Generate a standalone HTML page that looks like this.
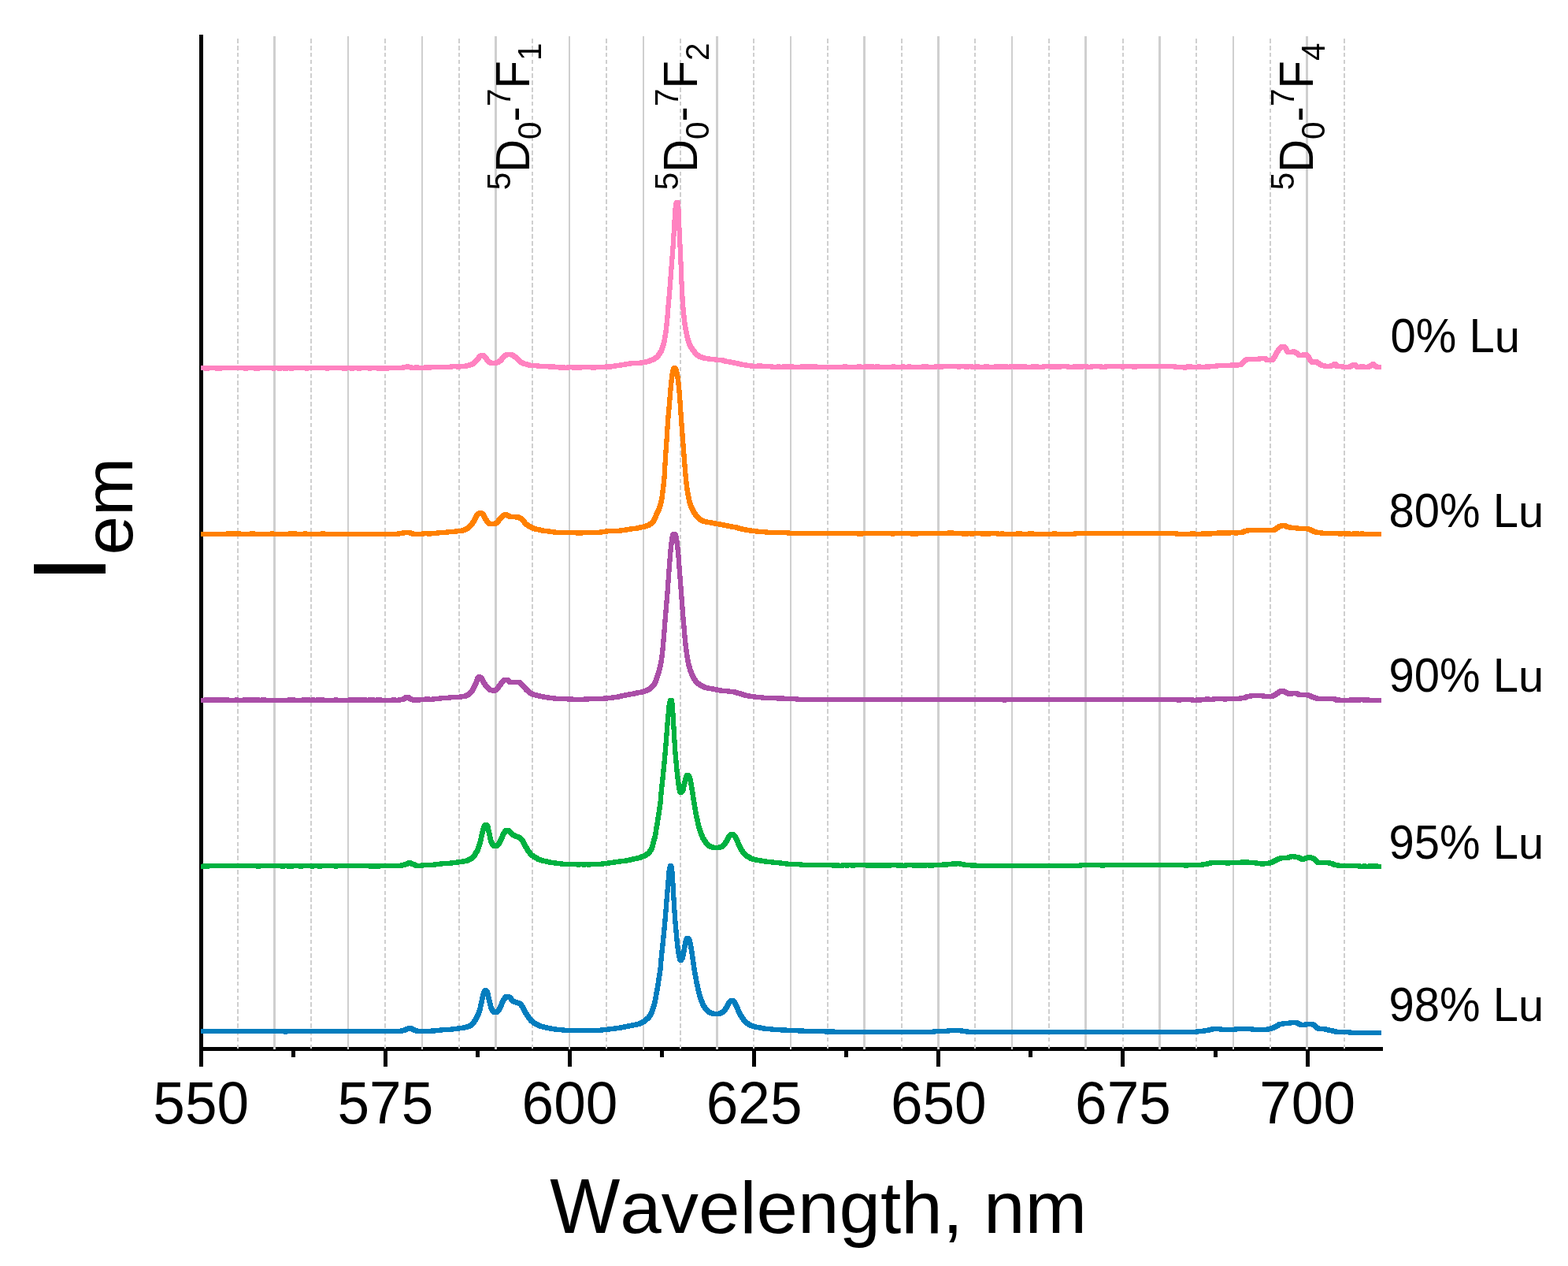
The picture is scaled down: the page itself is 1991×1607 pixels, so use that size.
<!DOCTYPE html>
<html lang="en"><head><meta charset="utf-8">
<title>Emission spectra</title>
<style>
html,body{margin:0;padding:0;background:#fff;}
body{width:1991px;height:1607px;overflow:hidden;}
svg{display:block;}
text{font-family:"Liberation Sans", sans-serif;fill:#000;font-kerning:none;}
.grid line{stroke:#cfcfcf;}
.curve{fill:none;stroke-width:6;shape-rendering:crispEdges;stroke-linejoin:round;stroke-linecap:butt;}
</style></head><body>
<svg width="1991" height="1607" viewBox="0 0 1991 1607">
<rect width="1991" height="1607" fill="#ffffff"/>
<g stroke="#000" stroke-width="5" fill="none" stroke-linecap="butt" shape-rendering="crispEdges">
<line x1="255.50" y1="44.00" x2="255.50" y2="1353.90"/>
<line x1="253.00" y1="1331.50" x2="1756.00" y2="1331.50"/>
<line x1="489.35" y1="1331.50" x2="489.35" y2="1353.90"/>
<line x1="723.50" y1="1331.50" x2="723.50" y2="1353.90"/>
<line x1="957.65" y1="1331.50" x2="957.65" y2="1353.90"/>
<line x1="1191.80" y1="1331.50" x2="1191.80" y2="1353.90"/>
<line x1="1425.95" y1="1331.50" x2="1425.95" y2="1353.90"/>
<line x1="1660.10" y1="1331.50" x2="1660.10" y2="1353.90"/>
<line x1="372.27" y1="1331.50" x2="372.27" y2="1342.30"/>
<line x1="606.42" y1="1331.50" x2="606.42" y2="1342.30"/>
<line x1="840.58" y1="1331.50" x2="840.58" y2="1342.30"/>
<line x1="1074.72" y1="1331.50" x2="1074.72" y2="1342.30"/>
<line x1="1308.88" y1="1331.50" x2="1308.88" y2="1342.30"/>
<line x1="1543.03" y1="1331.50" x2="1543.03" y2="1342.30"/>
</g>
<g class="grid" shape-rendering="crispEdges">
<line x1="348.51" y1="46" x2="348.51" y2="1332" stroke-width="2.6"/>
<line x1="442.17" y1="46" x2="442.17" y2="1332" stroke-width="2.6"/>
<line x1="535.83" y1="46" x2="535.83" y2="1332" stroke-width="2.6"/>
<line x1="629.49" y1="46" x2="629.49" y2="1332" stroke-width="2.6"/>
<line x1="723.15" y1="46" x2="723.15" y2="1332" stroke-width="2.6"/>
<line x1="816.81" y1="46" x2="816.81" y2="1332" stroke-width="2.6"/>
<line x1="910.47" y1="46" x2="910.47" y2="1332" stroke-width="2.6"/>
<line x1="1004.13" y1="46" x2="1004.13" y2="1332" stroke-width="2.6"/>
<line x1="1097.79" y1="46" x2="1097.79" y2="1332" stroke-width="2.6"/>
<line x1="1191.45" y1="46" x2="1191.45" y2="1332" stroke-width="2.6"/>
<line x1="1285.11" y1="46" x2="1285.11" y2="1332" stroke-width="2.6"/>
<line x1="1378.77" y1="46" x2="1378.77" y2="1332" stroke-width="2.6"/>
<line x1="1472.43" y1="46" x2="1472.43" y2="1332" stroke-width="2.6"/>
<line x1="1566.09" y1="46" x2="1566.09" y2="1332" stroke-width="2.6"/>
<line x1="1659.75" y1="46" x2="1659.75" y2="1332" stroke-width="2.6"/>
<line x1="301.68" y1="49.1" x2="301.68" y2="1332" stroke-width="2" stroke-dasharray="5.6 3.265"/>
<line x1="395.34" y1="49.1" x2="395.34" y2="1332" stroke-width="2" stroke-dasharray="5.6 3.265"/>
<line x1="489.00" y1="49.1" x2="489.00" y2="1332" stroke-width="2" stroke-dasharray="5.6 3.265"/>
<line x1="582.66" y1="49.1" x2="582.66" y2="1332" stroke-width="2" stroke-dasharray="5.6 3.265"/>
<line x1="676.32" y1="49.1" x2="676.32" y2="1332" stroke-width="2" stroke-dasharray="5.6 3.265"/>
<line x1="769.98" y1="49.1" x2="769.98" y2="1332" stroke-width="2" stroke-dasharray="5.6 3.265"/>
<line x1="863.64" y1="49.1" x2="863.64" y2="1332" stroke-width="2" stroke-dasharray="5.6 3.265"/>
<line x1="957.30" y1="49.1" x2="957.30" y2="1332" stroke-width="2" stroke-dasharray="5.6 3.265"/>
<line x1="1050.96" y1="49.1" x2="1050.96" y2="1332" stroke-width="2" stroke-dasharray="5.6 3.265"/>
<line x1="1144.62" y1="49.1" x2="1144.62" y2="1332" stroke-width="2" stroke-dasharray="5.6 3.265"/>
<line x1="1238.28" y1="49.1" x2="1238.28" y2="1332" stroke-width="2" stroke-dasharray="5.6 3.265"/>
<line x1="1331.94" y1="49.1" x2="1331.94" y2="1332" stroke-width="2" stroke-dasharray="5.6 3.265"/>
<line x1="1425.60" y1="49.1" x2="1425.60" y2="1332" stroke-width="2" stroke-dasharray="5.6 3.265"/>
<line x1="1519.26" y1="49.1" x2="1519.26" y2="1332" stroke-width="2" stroke-dasharray="5.6 3.265"/>
<line x1="1612.92" y1="49.1" x2="1612.92" y2="1332" stroke-width="2" stroke-dasharray="5.6 3.265"/>
<line x1="1706.58" y1="49.1" x2="1706.58" y2="1332" stroke-width="2" stroke-dasharray="5.6 3.265"/>
</g>
<path class="curve" stroke="#037dbe" d="M255,1309h107v1h1v-1h147v-1h4v-1h2v-1h3v-1h3v1h2v1h2v1h3v1h20v-1h1v1h1v-1h9v-1h14v-1h8v-1h7v-1h4v-1h3v-1h2v-1h1v-1h1v-1h1v-1h1v-2h1v-1h1v-2h1v-2h1v-2h1v-2h1v-3h1v-3h1v-5h1v-4h1v-5h1v-4h1v-3h1v-2h1v-1h1v1h1v1h1v3h1v5h1v4h1v4h1v4h1v2h1v2h1v1h1v1h4v-1h1v-1h1v-1h1v-2h1v-2h1v-2h1v-3h1v-2h1v-2h1v-1h1v-2h1v-1h4v1h2v1h1v2h1v1h1v1h2v1h3v1h3v1h2v1h1v2h1v1h1v2h1v2h1v2h1v2h1v1h1v2h1v1h1v2h1v1h1v1h1v2h2v1h1v1h1v1h2v1h2v1h2v1h2v1h4v1h4v1h5v1h6v1h10v1h49v-1h9v-1h8v-1h7v-1h5v-1h5v-1h5v-1h5v-1h4v-1h2v-1h2v-1h2v-1h1v-1h1v-1h1v-1h2v-1h1v-2h1v-1h1v-2h1v-2h1v-3h1v-3h1v-3h1v-4h1v-5h1v-6h1v-5h1v-6h1v-7h1v-6h1v-7h1v-12h1v-10h1v-9h1v-10h1v-10h1v-11h1v-12h1v-13h1v-12h1v-12h1v-12h1v-5h1v-3h1v2h1v7h1v15h1v18h1v16h1v14h1v11h1v11h1v9h1v7h1v5h1v4h1v1h1v-2h1v-1h1v-4h1v-5h1v-6h1v-5h1v-3h1v-2h2v1h1v2h1v4h1v5h1v6h1v7h1v7h1v7h1v6h1v5h1v6h1v4h1v5h1v4h1v4h1v3h1v3h1v2h1v3h1v2h1v1h1v2h1v1h1v1h1v1h1v1h1v1h2v1h3v1h9v-1h2v-1h2v-1h1v-1h1v-1h1v-2h1v-1h1v-2h1v-2h1v-2h1v-1h1v-1h1v-1h3v1h1v1h1v2h1v2h1v2h1v2h1v3h1v2h1v2h1v2h1v1h1v2h1v1h1v2h1v1h1v1h1v1h1v1h2v1h1v1h2v1h3v1h3v1h6v1h5v1h10v1h13v1h1v-1h3v1h18v1h2v-1h2v1h30v1h2v-1h2v1h4v-1h1v1h128v-1h18v-1h17v1h7v1h292v-1h9v-1h6v-1h4v-1h11v1h19v-1h21v1h20v-1h4v-1h3v-1h2v-1h2v-1h2v-1h1v-1h5v-1h9v-1h9v1h2v1h2v1h7v-1h9v1h2v1h1v1h1v1h1v1h2v1h9v1h4v1h5v1h4v1h18v1h40"/>
<path class="curve" stroke="#00b140" d="M255,1100h4v-1h3v1h2v-1h63v1h2v-1h29v1h2v-1h6v1h1v-1h3v1h1v-1h10v1h2v-1h13v1h1v-1h8v1h2v-1h19v1h1v-1h43v1h2v-1h3v1h2v-1h3v1h1v-1h29v-1h4v-1h3v-1h2v-1h2v1h2v1h3v1h2v1h8v-1h16v-1h8v-1h13v-1h8v-1h7v-1h5v-1h2v-1h2v-1h2v-1h1v-1h1v-1h1v-1h1v-2h1v-2h1v-1h1v-2h1v-3h1v-3h1v-3h1v-4h1v-5h1v-4h1v-4h1v-3h1v-2h1v-1h2v1h1v2h1v5h1v4h1v5h1v4h1v2h1v2h1v1h1v1h4v-1h1v-1h1v-1h1v-2h1v-2h1v-2h1v-2h1v-3h1v-2h1v-1h1v-2h1v-1h4v1h1v1h1v1h1v1h1v1h1v1h2v1h2v1h3v1h2v1h1v1h1v1h1v1h1v2h1v2h1v2h1v2h1v1h1v2h1v2h1v1h1v1h1v2h1v1h1v1h2v1h1v1h2v1h2v1h1v1h3v1h3v1h5v1h4v1h7v1h8v1h21v1h1v-1h6v1h1v-1h5v1h1v-1h17v-1h8v-1h7v-1h7v-1h8v-1h5v-1h4v-1h5v-1h4v-1h2v-1h3v-1h2v-1h1v-1h2v-1h1v-1h1v-2h1v-1h1v-2h1v-3h1v-4h1v-4h1v-3h1v-5h1v-7h1v-5h1v-7h1v-6h1v-7h1v-7h1v-12h1v-10h1v-9h1v-10h1v-10h1v-11h1v-12h1v-13h1v-13h1v-11h1v-11h1v-5h1v-3h2v5h1v13h1v17h1v17h1v15h1v11h1v11h1v9h1v8h1v6h1v4h1v1h1v-1h1v-1h1v-2h1v-5h1v-4h1v-4h1v-3h1v-2h2v1h1v2h1v3h1v5h1v6h1v6h1v7h1v6h1v6h1v6h1v5h1v4h1v5h1v4h1v3h1v3h1v3h1v2h1v3h1v1h1v2h1v1h1v2h1v1h1v1h1v1h1v1h2v1h3v1h9v-1h3v-1h1v-1h1v-1h1v-1h1v-2h1v-1h1v-2h1v-2h1v-2h1v-1h1v-1h1v-1h3v1h1v1h1v1h1v2h1v2h1v2h1v3h1v2h1v2h1v2h1v2h1v1h1v2h1v1h1v1h1v1h1v1h1v1h2v1h2v1h1v1h3v1h4v1h6v1h6v1h9v1h10v1h8v1h18v1h41v1h3v-1h3v1h6v-1h5v1h1v-1h6v1h2v-1h17v1h4v-1h2v1h2v-1h1v1h2v-1h3v1h4v-1h3v1h4v-1h2v1h2v-1h10v1h1v-1h4v1h5v-1h10v1h2v-1h2v1h1v-1h2v1h3v-1h2v1h3v-1h5v1h4v-1h14v-1h3v1h1v-1h8v-1h2v1h2v-1h5v1h5v1h10v1h2v-1h2v1h134v-1h27v1h2v-1h104v1h2v-1h20v-1h6v-1h4v-1h21v1h2v-1h17v-1h3v1h3v-1h1v1h11v1h7v1h2v-1h8v-1h3v-1h2v-1h2v-1h2v-1h2v-1h3v-1h10v-1h3v-1h5v1h5v1h2v1h2v1h2v-1h3v-1h3v-1h3v1h3v1h2v1h1v1h1v1h1v1h1v1h15v1h4v1h2v1h5v1h27v1h6v-1h1v1h6v-1h3v1h3v-1h3v1h6"/>
<path class="curve" stroke="#aa4ea7" d="M255,889h6v-1h2v1h2v-1h2v1h1v-1h4v1h1v-1h1v1h4v-1h2v1h1v-1h2v1h3v-1h3v1h11v-1h1v1h9v-1h4v1h1v-1h1v1h3v-1h2v1h3v-1h4v1h5v-1h3v1h31v-1h1v1h1v-1h2v1h1v-1h1v1h12v-1h2v1h3v-1h2v1h5v-1h1v1h5v-1h3v1h3v-1h1v1h16v-1h1v1h17v-1h2v1h3v-1h2v1h4v-1h1v1h3v-1h2v1h2v-1h1v1h5v-1h1v1h3v-1h1v1h5v-1h4v1h16v-1h2v1h6v-1h5v-1h2v-1h1v-1h4v1h1v1h2v1h3v1h2v-1h1v1h4v-1h9v-1h3v1h6v-1h9v-1h12v-1h14v-1h6v-1h2v-1h2v-1h1v-1h1v-1h1v-1h1v-1h1v-2h1v-2h1v-2h1v-2h1v-2h1v-3h1v-3h1v-1h1v-1h1v1h2v1h1v2h1v2h1v2h1v1h1v2h1v1h1v1h1v1h1v1h1v1h1v1h4v1h2v-1h2v-1h1v-1h1v-1h1v-2h1v-1h1v-1h1v-2h1v-1h1v-1h1v-1h1v-1h5v1h1v1h1v1h13v1h1v1h1v1h1v1h1v1h1v1h1v1h1v1h1v2h2v1h1v1h1v1h1v1h2v1h2v1h4v1h4v1h5v1h6v1h8v1h18v1h3v-1h1v1h17v-1h1v1h2v-1h22v-1h1v1h1v-1h8v-1h7v-1h4v-1h5v-1h5v-1h6v-1h4v-1h6v-1h3v-1h3v-1h2v-1h2v-1h1v-1h1v-1h1v-1h1v-1h1v-1h1v-2h1v-2h1v-3h1v-3h1v-3h1v-3h1v-4h1v-4h1v-5h1v-7h1v-9h1v-11h1v-12h1v-13h1v-12h1v-12h1v-12h1v-14h1v-14h1v-13h1v-12h1v-9h1v-7h1v-4h1v-1h2v1h1v3h1v6h1v8h1v10h1v14h1v13h1v13h1v13h1v13h1v13h1v11h1v12h1v10h1v8h1v7h1v6h1v5h1v3h1v4h1v2h1v3h1v2h1v2h1v2h1v1h1v2h1v1h1v1h1v1h2v1h1v1h2v1h2v1h2v1h4v1h6v1h5v1h5v1h10v1h8v1h3v1h4v1h3v1h3v1h5v1h7v1h10v1h20v1h2v-1h4v1h18v1h263v1h1v-1h220v1h2v-1h16v1h6v-1h2v1h2v-1h8v-1h2v1h7v-1h14v1h1v-1h19v-1h6v-1h2v-1h5v-1h16v1h12v-1h2v-1h2v-1h1v-1h2v-1h1v-1h2v-1h4v1h2v1h2v1h2v1h4v-1h7v1h2v1h12v1h3v1h2v1h3v1h3v1h23v1h2v1h2v-1h1v1h15v-1h2v1h4v-1h4v1h1v-1h6v1h2v-1h3v1h17"/>
<path class="curve" stroke="#ff8000" d="M255,678h34v-1h1v1h4v-1h1v1h3v-1h1v1h2v-1h3v1h15v-1h3v1h23v-1h1v1h22v-1h1v1h4v-1h2v1h12v-1h1v1h21v-1h2v1h95v-1h6v-1h9v1h3v1h13v-1h7v1h2v-1h10v-1h12v-1h11v-1h8v-1h3v-1h2v-1h2v-1h1v-1h1v-1h1v-1h1v-1h1v-1h1v-2h1v-1h1v-2h1v-2h1v-2h1v-2h1v-1h1v-1h2v-1h2v1h2v1h1v2h1v2h1v2h1v1h1v2h1v1h1v1h1v1h8v-1h2v-1h1v-1h1v-2h1v-1h1v-1h1v-1h1v-1h1v-1h1v-1h2v-1h2v1h2v1h2v1h9v1h1v-1h1v1h2v1h2v1h1v1h1v1h1v1h1v2h1v1h1v1h2v1h1v1h2v1h2v1h2v1h3v1h5v1h4v1h8v1h7v1h29v1h2v-1h2v1h1v-1h25v-1h7v-1h18v-1h7v-1h6v-1h8v-1h4v-1h5v-1h3v-1h3v-1h1v-1h2v-1h1v-1h1v-1h1v-2h1v-2h1v-2h1v-3h1v-2h1v-2h1v-2h1v-3h1v-3h1v-4h1v-5h1v-8h1v-8h1v-10h1v-17h1v-16h1v-14h1v-16h1v-14h1v-11h1v-12h1v-12h1v-10h1v-8h1v-5h1v-3h1v-1h1v1h1v2h1v4h1v5h1v8h1v10h1v13h1v15h1v14h1v13h1v13h1v13h1v13h1v12h1v10h1v8h1v6h1v5h1v5h1v3h1v3h1v2h1v2h1v2h1v2h1v1h1v2h1v1h1v1h1v1h1v1h1v1h1v1h2v1h2v1h4v1h6v1h5v1h6v1h5v1h5v1h5v1h6v1h3v1h4v1h5v1h6v1h8v1h12v1h28v1h89v1h4v-1h39v1h1v-1h24v1h1v-1h4v1h1v-1h41v-1h2v1h1v-1h1v1h14v1h1v-1h2v1h2v-1h5v1h2v-1h12v1h3v-1h2v1h2v-1h1v1h1v-1h11v1h5v-1h1v1h19v-1h4v1h11v-1h4v1h27v-1h2v1h25v-1h129v1h19v-1h3v1h11v-1h3v1h3v-1h2v1h2v-1h10v-1h4v1h2v-1h4v1h4v-1h8v1h1v-1h8v-1h2v-1h4v-1h34v-1h2v-1h1v-1h2v-1h1v-1h3v-1h5v1h2v1h4v1h9v1h14v1h3v1h2v1h2v1h3v1h7v1h23v1h2v-1h5v1h2v-1h3v1h6v-1h2v1h2v-1h1v1h5v-1h1v1h24"/>
<path class="curve" stroke="#ff82c0" d="M255,467h6v1h3v-1h11v1h2v-1h1v1h2v-1h31v1h2v-1h11v1h4v-1h19v1h1v-1h6v1h2v-1h5v1h3v-1h5v1h2v-1h18v1h1v-1h25v1h1v-1h20v1h3v-1h7v1h2v-1h7v1h2v-1h12v1h1v-1h10v1h2v-1h1v1h4v-1h4v1h1v-1h20v-1h5v-1h1v1h4v1h6v-1h2v1h10v-1h2v1h4v-1h27v-1h8v1h2v-1h9v-1h4v-1h3v-1h2v-1h1v-1h1v-1h1v-1h1v-1h1v-1h1v-1h1v-2h1v-1h2v-1h3v1h1v1h1v1h1v1h1v2h1v1h1v1h1v1h2v1h7v-1h3v-1h1v-1h2v-1h1v-2h1v-1h1v-1h1v-1h1v-1h2v-1h7v1h2v1h1v1h2v1h1v1h1v1h1v1h1v1h1v1h1v1h2v1h2v1h4v1h3v1h11v1h15v1h3v-1h2v1h8v1h3v-1h2v1h5v-1h7v1h3v-1h2v1h4v-1h15v1h3v-1h15v-1h4v1h1v-1h6v-1h7v-1h6v-1h6v-1h14v-1h6v-1h4v-1h2v-1h3v-1h2v-1h1v-1h2v-1h1v-1h1v-2h1v-1h1v-2h1v-1h1v-3h1v-3h1v-3h1v-4h1v-6h1v-6h1v-9h1v-10h1v-13h1v-11h1v-12h1v-13h1v-13h1v-13h1v-13h1v-16h1v-17h1v-15h1v-7h1v-2h2v10h1v24h1v21h1v22h1v25h1v19h1v14h1v10h1v9h1v6h1v5h1v5h1v4h1v3h1v3h1v2h1v2h1v1h1v2h1v1h1v1h1v2h1v1h1v1h1v1h2v1h1v1h3v1h3v1h6v1h9v1h9v1h3v1h6v1h5v1h5v1h4v1h6v1h7v1h9v-1h3v1h14v1h8v-1h1v1h6v-1h1v1h2v-1h3v1h4v-1h1v1h12v-1h1v1h3v-1h2v1h3v-1h1v1h3v-1h2v1h1v-1h2v1h36v-1h2v1h16v-1h2v1h7v-1h2v1h4v-1h3v1h5v-1h2v1h19v-1h1v1h11v-1h1v1h7v-1h1v1h17v-1h1v1h3v-1h1v1h11v-1h5v1h3v-1h21v1h1v-1h8v1h3v-1h5v1h5v-1h3v1h9v-1h3v1h10v-1h1v1h2v-1h4v1h3v-1h1v1h1v-1h2v1h5v-1h5v1h3v-1h3v1h4v-1h4v1h9v-1h2v1h2v-1h2v1h8v-1h10v1h4v-1h4v1h3v-1h10v1h8v-1h2v1h4v-1h1v1h3v-1h6v1h6v-1h12v1h6v-1h21v1h1v-1h13v1h3v-1h50v1h12v1h1v-1h3v-1h4v1h10v-1h1v1h9v-1h2v1h1v-1h10v-1h19v-1h3v1h4v-1h5v-1h1v-1h1v-1h1v-1h1v-1h1v-1h2v-1h16v-1h8v1h1v1h8v-1h1v-2h1v-1h1v-2h1v-2h1v-2h1v-1h1v-2h1v-1h1v-1h1v-1h1v-1h4v1h1v1h1v2h1v2h1v1h7v-1h1v1h2v1h2v1h1v1h1v1h6v-1h4v1h1v1h1v1h1v2h1v2h1v1h1v1h1v1h3v-1h3v1h1v1h2v1h1v1h2v1h4v1h8v-1h3v-1h1v-1h2v1h1v2h8v1h9v-1h2v-1h2v-1h3v1h1v1h1v1h5v-1h3v1h7v-1h2v-1h2v-1h1v-1h1v1h1v1h1v1h2v1h6"/>
<text x="194.30" y="1426.00"><tspan font-size="75.95" textLength="121.80" lengthAdjust="spacingAndGlyphs">550</tspan></text>
<text x="428.45" y="1426.00"><tspan font-size="75.95" textLength="121.80" lengthAdjust="spacingAndGlyphs">575</tspan></text>
<text x="662.60" y="1426.00"><tspan font-size="75.95" textLength="121.80" lengthAdjust="spacingAndGlyphs">600</tspan></text>
<text x="896.75" y="1426.00"><tspan font-size="75.95" textLength="121.80" lengthAdjust="spacingAndGlyphs">625</tspan></text>
<text x="1130.90" y="1426.00"><tspan font-size="75.95" textLength="121.80" lengthAdjust="spacingAndGlyphs">650</tspan></text>
<text x="1365.05" y="1426.00"><tspan font-size="75.95" textLength="121.80" lengthAdjust="spacingAndGlyphs">675</tspan></text>
<text x="1599.20" y="1426.00"><tspan font-size="75.95" textLength="121.80" lengthAdjust="spacingAndGlyphs">700</tspan></text>
<text x="698.15" y="1564.50"><tspan font-size="98.22" textLength="89.10" lengthAdjust="spacingAndGlyphs">W</tspan><tspan font-size="92.66" textLength="593.00" lengthAdjust="spacingAndGlyphs">avelength, nm</tspan></text>
<text transform="translate(134.00 739.80) rotate(-90)" x="0.00" y="0"><tspan font-size="132.14" textLength="35.28" lengthAdjust="spacingAndGlyphs">I</tspan><tspan font-size="87.35" textLength="123.64" lengthAdjust="spacingAndGlyphs" dy="34.00">em</tspan></text>
<text x="1765.50" y="447.00"><tspan font-size="60.35" textLength="132.20" lengthAdjust="spacingAndGlyphs">0% L</tspan><tspan font-size="56.93" textLength="32.26" lengthAdjust="spacingAndGlyphs">u</tspan></text>
<text x="1763.50" y="669.00"><tspan font-size="60.35" textLength="164.46" lengthAdjust="spacingAndGlyphs">80% L</tspan><tspan font-size="56.93" textLength="32.26" lengthAdjust="spacingAndGlyphs">u</tspan></text>
<text x="1763.50" y="878.00"><tspan font-size="60.35" textLength="164.46" lengthAdjust="spacingAndGlyphs">90% L</tspan><tspan font-size="56.93" textLength="32.26" lengthAdjust="spacingAndGlyphs">u</tspan></text>
<text x="1763.50" y="1090.00"><tspan font-size="60.35" textLength="164.46" lengthAdjust="spacingAndGlyphs">95% L</tspan><tspan font-size="56.93" textLength="32.26" lengthAdjust="spacingAndGlyphs">u</tspan></text>
<text x="1763.50" y="1296.00"><tspan font-size="60.35" textLength="164.46" lengthAdjust="spacingAndGlyphs">98% L</tspan><tspan font-size="56.93" textLength="32.26" lengthAdjust="spacingAndGlyphs">u</tspan></text>
<text transform="translate(672.00 241.30) rotate(-90)" x="0.00" y="0"><tspan font-size="42.14" textLength="22.52" lengthAdjust="spacingAndGlyphs" dy="-24.00">5</tspan><tspan font-size="60.35" textLength="41.89" lengthAdjust="spacingAndGlyphs" dy="24.00">D</tspan><tspan font-size="42.14" textLength="22.52" lengthAdjust="spacingAndGlyphs" dy="15.00">0</tspan><tspan font-size="56.93" textLength="19.31" lengthAdjust="spacingAndGlyphs" dy="-15.00">-</tspan><tspan font-size="42.14" textLength="22.52" lengthAdjust="spacingAndGlyphs" dy="-24.00">7</tspan><tspan font-size="60.35" textLength="35.43" lengthAdjust="spacingAndGlyphs" dy="24.00">F</tspan><tspan font-size="42.14" textLength="22.52" lengthAdjust="spacingAndGlyphs" dy="15.00">1</tspan></text>
<text transform="translate(885.00 241.30) rotate(-90)" x="0.00" y="0"><tspan font-size="42.14" textLength="22.52" lengthAdjust="spacingAndGlyphs" dy="-24.00">5</tspan><tspan font-size="60.35" textLength="41.89" lengthAdjust="spacingAndGlyphs" dy="24.00">D</tspan><tspan font-size="42.14" textLength="22.52" lengthAdjust="spacingAndGlyphs" dy="15.00">0</tspan><tspan font-size="56.93" textLength="19.31" lengthAdjust="spacingAndGlyphs" dy="-15.00">-</tspan><tspan font-size="42.14" textLength="22.52" lengthAdjust="spacingAndGlyphs" dy="-24.00">7</tspan><tspan font-size="60.35" textLength="35.43" lengthAdjust="spacingAndGlyphs" dy="24.00">F</tspan><tspan font-size="42.14" textLength="22.52" lengthAdjust="spacingAndGlyphs" dy="15.00">2</tspan></text>
<text transform="translate(1667.00 241.30) rotate(-90)" x="0.00" y="0"><tspan font-size="42.14" textLength="22.52" lengthAdjust="spacingAndGlyphs" dy="-24.00">5</tspan><tspan font-size="60.35" textLength="41.89" lengthAdjust="spacingAndGlyphs" dy="24.00">D</tspan><tspan font-size="42.14" textLength="22.52" lengthAdjust="spacingAndGlyphs" dy="15.00">0</tspan><tspan font-size="56.93" textLength="19.31" lengthAdjust="spacingAndGlyphs" dy="-15.00">-</tspan><tspan font-size="42.14" textLength="22.52" lengthAdjust="spacingAndGlyphs" dy="-24.00">7</tspan><tspan font-size="60.35" textLength="35.43" lengthAdjust="spacingAndGlyphs" dy="24.00">F</tspan><tspan font-size="42.14" textLength="22.52" lengthAdjust="spacingAndGlyphs" dy="15.00">4</tspan></text>
</svg>
</body></html>
